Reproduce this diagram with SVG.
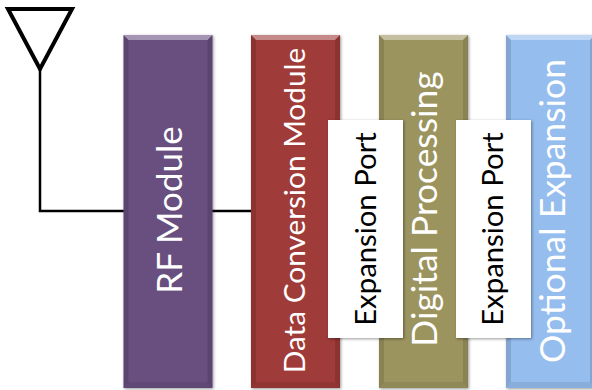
<svg xmlns="http://www.w3.org/2000/svg" width="592" height="390" viewBox="0 0 592 390">
<style>
text{font-family:Lato,"Open Sans","Liberation Sans",sans-serif;text-anchor:middle}
.w{fill:#fff}.k{fill:#000}
.line{fill:none;stroke:#000;stroke-linejoin:miter}
.hi{fill:#fff;opacity:.4}.lo{fill:#000;opacity:.12}.bot{fill:#000;opacity:.08}
.port{fill:#fff;filter:url(#s)}
.bar{filter:url(#s)}
</style>
<defs>
<filter id="s" x="-10%" y="-5%" width="125%" height="112%"><feDropShadow dx="1" dy="1" stdDeviation="1.5" flood-color="#000" flood-opacity=".4"/></filter>
<g id="bevel">
<polygon class="hi" points="0,0 89,0 84,5 5,5"/>
<polygon class="lo" points="0,0 5,5 5,347 0,353"/>
<polygon class="lo" points="89,0 84,5 84,347 89,353"/>
<polygon class="bot" points="0,353 5,347 84,347 89,353"/>
</g>
</defs>
<g id="connectors">
<path class="line" stroke-width="2.500" d="M40 70V211H124"/>
<path class="line" stroke-width="2.500" d="M212 211H252"/>
</g>
<g id="antenna"><polygon class="line" stroke-width="4" points="8,9 72,9 40,69"/></g>
<g id="rf-module"><rect class="bar" x="123.500" y="35" width="89" height="353" fill="#684f80"/><use href="#bevel" x="123.500" y="35"/>
<text class="w" font-size="35" transform="translate(182 210) rotate(-90)">RF Module</text></g>
<g id="data-conversion"><rect class="bar" x="251" y="35" width="89" height="353" fill="#9f3b38"/><use href="#bevel" x="251" y="35"/>
<text class="w" font-size="29.800" transform="translate(305 210.500) rotate(-90)">Data Conversion Module</text></g>
<g id="digital-processing"><rect class="bar" x="379" y="35" width="89" height="353" fill="#9c945e"/><use href="#bevel" x="379" y="35"/>
<text class="w" font-size="35.400" transform="translate(437 209) rotate(-90)">Digital Processing</text></g>
<g id="optional-expansion"><rect class="bar" x="506" y="35" width="89" height="353" fill="#95bdee"/><use href="#bevel" x="506" y="35"/>
<text class="w" font-size="35.500" transform="translate(565 211) rotate(-90)">Optional Expansion</text></g>
<g id="expansion-port-1"><rect class="port" x="328" y="120" width="75" height="218"/>
<text class="k" font-size="29.300" transform="translate(376 229) rotate(-90)">Expansion Port</text></g>
<g id="expansion-port-2"><rect class="port" x="456" y="120" width="75" height="218"/>
<text class="k" font-size="29.300" transform="translate(503 229) rotate(-90)">Expansion Port</text></g>
</svg>
